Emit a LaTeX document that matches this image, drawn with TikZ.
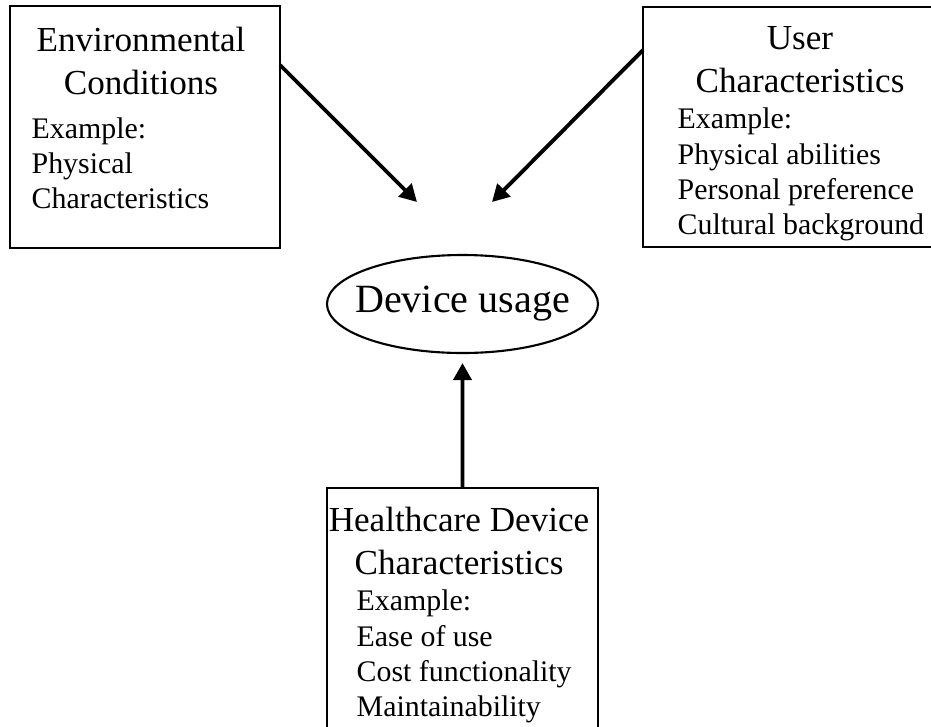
\documentclass[tikz,border=0pt]{standalone}
\usepackage{fontspec}
\setmainfont{Liberation Serif}
\usetikzlibrary{
    shapes.geometric, 
    arrows.meta, 
    positioning, 
    calc
}
\definecolor{bgWhite}{RGB}{255, 255, 255}
\definecolor{inkBlack}{RGB}{0, 0, 0}
\def\figW{9.31}
\def\figH{7.26}
\tikzset{
    canvas/.style={
        rectangle,
        fill=bgWhite,
        minimum width=\figW cm,
        minimum height=\figH cm,
        anchor=south west
    },
    factorBox/.style={
        rectangle,
        draw=inkBlack,
        line width=0.6pt,
        fill=bgWhite,
        inner sep=0pt,
        outer sep=0pt,
        anchor=north west
    },
    heading/.style={
        font=\fontsize{10}{12.3}\selectfont,
        text=inkBlack,
        align=center,
        anchor=north,
        inner sep=0pt
    },
    body/.style={
        font=\fontsize{8.5}{10}\selectfont,
        text=inkBlack,
        align=left,
        anchor=north west,
        inner sep=0pt
    },
    outcome/.style={
        ellipse,
        draw=inkBlack,
        line width=0.6pt,
        minimum width=2.71cm,
        minimum height=0.98cm,
        inner xsep=-0.2cm,
        inner ysep=0pt,
        font=\fontsize{11.4}{13}\selectfont
    },
    connector/.style={
        draw=inkBlack,
        line width=1.1pt,
        -{Triangle[length=1.7mm, width=1.8mm]}
    }
}

\begin{document}
\begin{tikzpicture}
    \useasboundingbox (0,0) rectangle (\figW, \figH);
    \node[canvas] (page) at (0,0) {};
    
    % Factor boxes
    \node[factorBox, minimum width=2.70cm, minimum height=2.42cm] (envBox) at (0.10, 7.20) {};
    \node[factorBox, minimum width=3.10cm, minimum height=2.40cm] (userBox) at (6.43, 7.19) {};
    \node[factorBox, minimum width=2.71cm, minimum height=2.50cm] (careBox) at (3.27, 2.38) {};
    
    \node[heading] (envHead) at (1.41, 7.00) {Environmental\\Conditions};
    \node[body] (envList) at (0.31, 6.09) {Example:\\Physical\\Characteristics};
    
    \node[heading] (userHead) at (8.00, 7.00) {User\\Characteristics};
    \node[body] (userList) at (6.77, 6.185) {Example:\\Physical abilities\\Personal preference\\Cultural background};
    
    \node[heading] (careHead) at (4.59, 2.20) {Healthcare Device\\Characteristics};
    \node[body] (careList) at (3.56, 1.365) {Example:\\Ease of use\\Cost functionality\\Maintainability};
    
    % Outcome
    \node[outcome] (usage) at (4.625, 4.22) {Device usage};
    
    % Influences
    \coordinate (envTip) at (4.17, 5.24);
    \coordinate (userTip) at (4.92, 5.24);
    \draw[connector] ($(envBox.north east)+(0,-0.59)$) -- (envTip);
    \draw[connector] ($(userBox.north west)+(0,-0.43)$) -- (userTip);
    \draw[connector, shorten >=0.09cm] (careBox.north) -- (usage.south);
\end{tikzpicture}
\end{document}
